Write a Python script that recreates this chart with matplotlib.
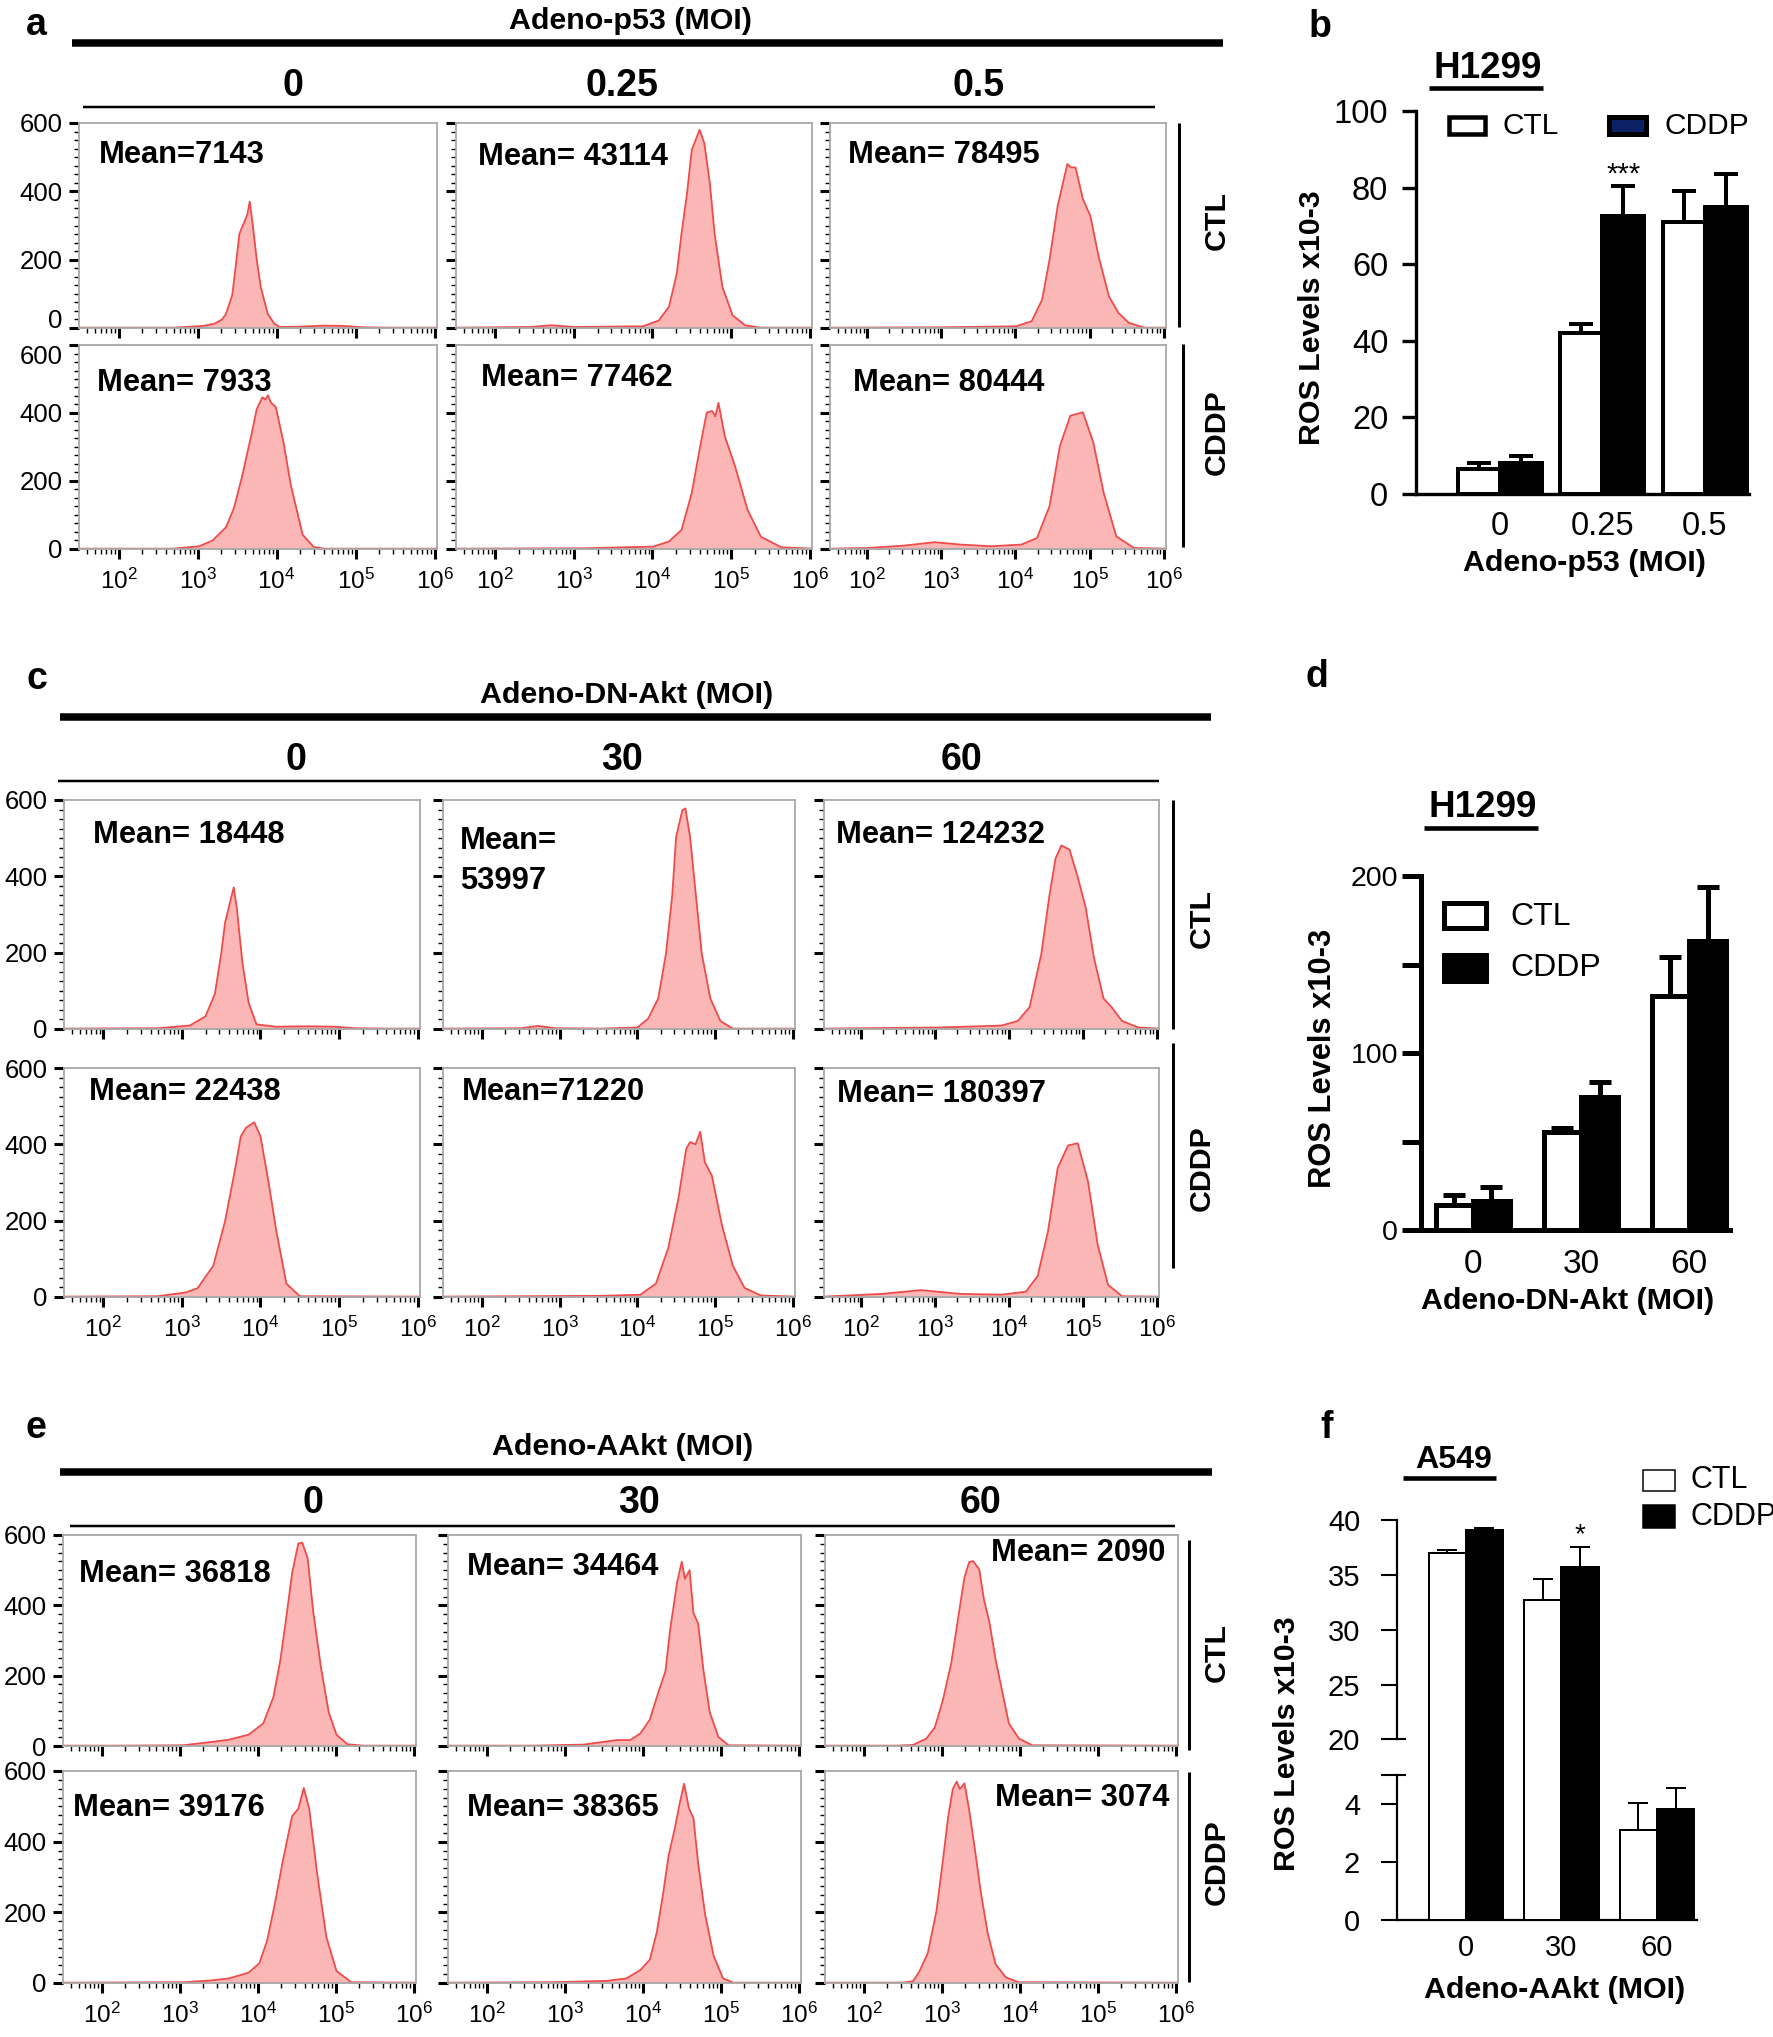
import numpy as np
import matplotlib
matplotlib.use("Agg")
import matplotlib.pyplot as plt
from matplotlib.lines import Line2D
from matplotlib.patches import Rectangle
from matplotlib.ticker import FixedLocator, MultipleLocator, LogLocator, NullFormatter
from matplotlib import transforms
from matplotlib import font_manager

names = {f.name for f in font_manager.fontManager.ttflist}
HAS_NARROW = 'Liberation Sans Narrow' in names
NARROW = 'Liberation Sans Narrow' if HAS_NARROW else 'Liberation Sans'
NS = 1.0 if HAS_NARROW else 0.84   # size factor for condensed texts when narrow font missing
plt.rcParams['font.family'] = ['Liberation Sans', 'DejaVu Sans']
plt.rcParams['mathtext.fontset'] = 'custom'
plt.rcParams['mathtext.rm'] = 'Liberation Sans'
plt.rcParams['mathtext.default'] = 'regular'

# ---------------- data: flow cytometry histograms (log10 intensity, count) -------------
# panel a : Adeno-p53 (MOI 0, 0.25, 0.5)
A_CTL_0_L = [1.5, 2.7, 3.07, 3.22, 3.31, 3.36, 3.44, 3.48, 3.53, 3.58, 3.63, 3.66, 3.70, 3.75, 3.80, 3.85, 3.89, 3.97, 4.04, 4.3, 4.6, 4.85, 5.1, 5.4, 6.03]
A_CTL_0_N = [1, 1, 6, 13, 25, 41, 97, 175, 276, 304, 332, 370, 299, 198, 120, 75, 41, 13, 3, 4, 7, 6, 2, 1, 1]
A_CDDP_0_L = [1.5, 2.69, 3.02, 3.19, 3.36, 3.46, 3.56, 3.68, 3.75, 3.82, 3.86, 3.89, 3.93, 3.99, 4.09, 4.18, 4.33, 4.47, 4.6, 6.03]
A_CDDP_0_N = [1, 1, 8, 25, 64, 120, 210, 334, 412, 446, 440, 452, 430, 418, 311, 188, 42, 6, 1, 1]
A_CTL_025_L = [1.5, 2.45, 2.71, 3.0, 3.88, 4.08, 4.21, 4.31, 4.37, 4.44, 4.50, 4.60, 4.66, 4.73, 4.79, 4.89, 5.02, 5.18, 5.38, 6.03]
A_CTL_025_N = [1, 3, 8, 3, 5, 22, 62, 160, 277, 394, 521, 580, 541, 424, 277, 120, 37, 8, 1, 1]
A_CDDP_025_L = [1.5, 3.1, 4.01, 4.21, 4.37, 4.50, 4.60, 4.69, 4.76, 4.80, 4.84, 4.92, 5.05, 5.21, 5.38, 5.64, 6.03]
A_CDDP_025_N = [1, 2, 7, 22, 56, 165, 293, 401, 406, 390, 430, 332, 244, 115, 36, 5, 1]
A_CTL_05_L = [1.5, 2.98, 4.01, 4.22, 4.36, 4.46, 4.57, 4.70, 4.75, 4.81, 4.91, 5.01, 5.12, 5.26, 5.39, 5.53, 5.74, 6.03]
A_CTL_05_N = [1, 2, 5, 20, 83, 200, 358, 480, 470, 470, 377, 328, 211, 93, 44, 15, 1, 1]
A_CDDP_05_L = [1.5, 2.01, 2.5, 2.91, 3.26, 3.67, 4.08, 4.29, 4.46, 4.60, 4.74, 4.91, 5.05, 5.19, 5.36, 5.6, 6.03]
A_CDDP_05_N = [1, 3, 10, 20, 13, 8, 13, 32, 126, 303, 392, 402, 313, 165, 37, 3, 1]
A_MEANS_CTL = ["Mean=7143", "Mean= 43114", "Mean= 78495"]
A_MEANS_CDDP = ["Mean= 7933", "Mean= 77462", "Mean= 80444"]
A_COLS = ["0", "0.25", "0.5"]

# panel c : Adeno-DN-Akt (MOI 0, 30, 60)
C_CTL_0_L = [1.5, 2.69, 3.10, 3.30, 3.42, 3.50, 3.55, 3.62, 3.66, 3.70, 3.77, 3.85, 3.95, 4.2, 4.6, 4.95, 5.2, 5.6, 6.03]
C_CTL_0_N = [1, 2, 9, 33, 92, 197, 279, 338, 371, 315, 174, 68, 12, 6, 7, 6, 2, 1, 1]
C_CDDP_0_L = [1.5, 2.69, 3.05, 3.20, 3.40, 3.55, 3.67, 3.75, 3.82, 3.92, 4.00, 4.10, 4.20, 4.33, 4.50, 6.03]
C_CDDP_0_N = [1, 2, 12, 23, 82, 199, 327, 421, 444, 458, 421, 304, 175, 35, 2, 1]
C_CTL_30_L = [1.5, 2.5, 2.72, 2.95, 3.53, 4.0, 4.14, 4.27, 4.37, 4.45, 4.50, 4.58, 4.62, 4.68, 4.76, 4.83, 4.94, 5.07, 5.23, 6.03]
C_CTL_30_N = [1, 2, 8, 2, 1, 4, 27, 80, 198, 350, 503, 573, 578, 503, 339, 198, 80, 21, 1, 1]
C_CDDP_30_L = [1.5, 3.53, 4.04, 4.24, 4.40, 4.53, 4.63, 4.68, 4.75, 4.81, 4.87, 4.96, 5.09, 5.23, 5.38, 5.59, 6.03]
C_CDDP_30_N = [1, 3, 6, 35, 129, 259, 388, 406, 400, 433, 353, 318, 188, 82, 24, 4, 1]
C_CTL_60_L = [1.5, 3.08, 3.9, 4.12, 4.28, 4.44, 4.55, 4.63, 4.71, 4.82, 4.93, 5.04, 5.15, 5.28, 5.39, 5.53, 5.75, 6.03]
C_CTL_60_N = [1, 4, 9, 21, 57, 198, 352, 446, 481, 470, 399, 317, 187, 80, 57, 21, 4, 1]
C_CDDP_60_L = [1.5, 2.27, 2.81, 3.35, 3.9, 4.23, 4.39, 4.53, 4.66, 4.80, 4.93, 5.07, 5.20, 5.34, 5.53, 6.03]
C_CDDP_60_N = [1, 8, 18, 8, 6, 14, 55, 173, 338, 397, 403, 303, 138, 32, 2, 1]
C_MEANS_CTL = ["Mean= 18448", "Mean=\n53997", "Mean= 124232"]
C_MEANS_CDDP = ["Mean= 22438", "Mean=71220", "Mean= 180397"]
C_COLS = ["0", "30", "60"]

# panel e : Adeno-AAkt (MOI 0, 30, 60)
E_CTL_0_L = [1.5, 2.16, 3.04, 3.39, 3.63, 3.88, 4.07, 4.20, 4.29, 4.37, 4.44, 4.52, 4.57, 4.64, 4.71, 4.81, 4.91, 5.01, 5.15, 5.35, 6.03]
E_CTL_0_N = [1, 1, 2, 11, 18, 32, 64, 139, 245, 373, 491, 576, 578, 534, 384, 224, 96, 32, 5, 1, 1]
E_CDDP_0_L = [1.5, 3.04, 3.39, 3.63, 3.88, 4.02, 4.12, 4.22, 4.32, 4.44, 4.52, 4.59, 4.66, 4.76, 4.88, 5.01, 5.20, 6.03]
E_CDDP_0_N = [1, 2, 7, 13, 29, 56, 120, 226, 344, 472, 493, 552, 493, 312, 130, 34, 2, 1]
E_CTL_30_L = [1.5, 2.6, 3.24, 3.67, 3.84, 3.97, 4.09, 4.20, 4.29, 4.35, 4.44, 4.50, 4.54, 4.60, 4.65, 4.71, 4.78, 4.86, 4.97, 5.10, 6.03]
E_CTL_30_N = [1, 1, 4, 17, 17, 36, 75, 153, 212, 329, 465, 524, 475, 500, 378, 348, 212, 95, 26, 2, 1]
E_CDDP_30_L = [1.5, 2.81, 3.54, 3.79, 3.97, 4.09, 4.18, 4.26, 4.33, 4.41, 4.48, 4.53, 4.59, 4.65, 4.71, 4.80, 4.91, 5.03, 5.16, 6.03]
E_CDDP_30_N = [1, 2, 6, 13, 37, 66, 144, 252, 359, 437, 515, 564, 496, 466, 339, 193, 76, 13, 1, 1]
E_CTL_60_L = [1.5, 2.42, 2.63, 2.80, 2.91, 3.01, 3.12, 3.23, 3.29, 3.35, 3.40, 3.48, 3.54, 3.61, 3.69, 3.78, 3.86, 3.99, 4.16, 6.03]
E_CTL_60_N = [1, 1, 3, 21, 53, 128, 235, 395, 480, 523, 526, 502, 416, 352, 245, 149, 64, 21, 2, 1]
E_CDDP_60_L = [1.5, 2.5, 2.63, 2.71, 2.82, 2.93, 3.01, 3.08, 3.14, 3.19, 3.23, 3.29, 3.35, 3.42, 3.50, 3.59, 3.69, 3.82, 3.99, 6.03]
E_CDDP_60_N = [1, 1, 5, 32, 85, 203, 341, 469, 549, 570, 549, 565, 490, 384, 256, 139, 53, 16, 2, 1]
E_MEANS_CTL = ["Mean= 36818", "Mean= 34464", "Mean= 2090"]
E_MEANS_CDDP = ["Mean= 39176", "Mean= 38365", "Mean= 3074"]
E_COLS = ["0", "30", "60"]

HIST_YTICKS = [0, 200, 400, 600]
HIST_XTICKS = [1e2, 1e3, 1e4, 1e5, 1e6]
HIST_XLABELS = ["10$^{2}$", "10$^{3}$", "10$^{4}$", "10$^{5}$", "10$^{6}$"]

# ---------------- data: bar charts -------------
B_GROUPS = ["0", "0.25", "0.5"]
B_CTL = [6.5, 42, 71]
B_CTL_ERR = [1.5, 2.5, 8]
B_CDDP = [8, 72.5, 75]
B_CDDP_ERR = [2, 8, 8.5]
B_YTICKS = [0, 20, 40, 60, 80, 100]

D_GROUPS = ["0", "30", "60"]
D_CTL = [14, 55.5, 132]
D_CTL_ERR = [6, 2, 22]
D_CDDP = [16.5, 75, 163]
D_CDDP_ERR = [8, 8.5, 31]
D_YTICKS = [0, 50, 100, 150, 200]
D_YLABELS = ["0", "", "100", "", "200"]

F_GROUPS = ["0", "30", "60"]
F_CTL = [37.0, 32.7, 3.1]
F_CTL_ERR = [0.25, 1.9, 0.95]
F_CDDP = [39.05, 35.7, 3.82]
F_CDDP_ERR = [0.25, 1.8, 0.76]
F_YTICKS = [0, 2, 4, 5, 20, 25, 30, 35, 40]
F_YLABELS = ["0", "2", "4", "", "20", "25", "30", "35", "40"]

# ---------------- figure helpers (pixel layout) -------------
W, H = 1773, 2037
fig = plt.figure(figsize=(W / 100, H / 100), dpi=100)
PT = 0.72  # points per pixel at 100 dpi


def rect(x0, x1, y0, y1):
    return [x0 / W, 1 - y1 / H, (x1 - x0) / W, (y1 - y0) / H]


def ftext(x, y, s, **kw):
    return fig.text(x / W, 1 - y / H, s, **kw)


def ntext(x, y, s, size, **kw):
    return ftext(x, y, s, family=NARROW, fontweight='bold', fontsize=size * NS, **kw)


def fline(x0, x1, y0, y1, lw_px, color='k'):
    fig.add_artist(Line2D([x0 / W, x1 / W], [1 - y0 / H, 1 - y1 / H], lw=lw_px * PT,
                          color=color, solid_capstyle='butt'))


def frect(x0, x1, y0, y1, fc, ec, lw_px):
    fig.add_artist(Rectangle((x0 / W, 1 - y1 / H), (x1 - x0) / W, (y1 - y0) / H,
                             transform=fig.transFigure, facecolor=fc, edgecolor=ec,
                             lw=lw_px * PT, joinstyle='miter'))


FILL = '#fbb6b6'
LINE = '#f04a4a'
SPINE = '#a8a8a8'


def hist_ax(xr, yr, L, N, show_x, show_y, mean, mean_pos, mean_ha='left', yshift=None):
    ax = fig.add_axes(rect(xr[0], xr[1], yr[0], yr[1]))
    xs = 10 ** np.array(L)
    ax.fill_between(xs, 0, N, color=FILL, lw=0)
    ax.plot(xs, N, color=LINE, lw=1.3, solid_joinstyle='round')
    ax.set_xscale('log')
    ax.set_xlim(10 ** 1.5, 10 ** 6.03)
    ax.set_ylim(0, 600)
    for s in ax.spines.values():
        s.set_color(SPINE)
        s.set_linewidth(1.3)
    ax.xaxis.set_major_locator(FixedLocator(HIST_XTICKS))
    ax.xaxis.set_minor_locator(LogLocator(base=10, subs=np.arange(2, 10)))
    ax.xaxis.set_minor_formatter(NullFormatter())
    ax.set_yticks(HIST_YTICKS)
    ax.yaxis.set_minor_locator(MultipleLocator(25))
    ax.tick_params(which='major', direction='out', length=7, width=2.2, color='k')
    ax.tick_params(which='minor', direction='out', length=3.5, width=1.0, color='k')
    if show_x:
        ax.set_xticklabels(HIST_XLABELS, fontsize=17.5)
        ax.tick_params(axis='x', which='major', pad=7)
    else:
        ax.set_xticklabels([])
    if show_y:
        labs = ax.set_yticklabels([str(v) for v in HIST_YTICKS], fontsize=18.5)
        ax.tick_params(axis='y', which='major', pad=5)
        if yshift == 'bottom':
            labs[0].set_va('baseline')
        elif yshift == 'top':
            labs[-1].set_va('top')
    else:
        ax.set_yticklabels([])
    ntext(mean_pos[0], mean_pos[1], mean, 26.5, ha=mean_ha, va='center', linespacing=1.45)
    return ax


def flow_panel(letter, letter_pos, title, title_pos, thick, cols, col_y, col_x, thin,
               xcols, yrows, data, means_ctl, means_cddp, mean_pos_ctl, mean_pos_cddp,
               mean_ha, rowlab_x, rowlab_y, rowline_x, rowline_y, tight=False):
    ftext(letter_pos[0], letter_pos[1], letter, fontweight='bold', fontsize=27, ha='center', va='center')
    ntext(title_pos[0], title_pos[1], title, 26, ha='center', va='center')
    fline(thick[0], thick[1], thick[2], thick[2], 7.5)
    for cx, lab in zip(col_x, cols):
        ftext(cx, col_y, lab, fontweight='bold', fontsize=27, ha='center', va='center')
    fline(thin[0], thin[1], thin[2], thin[2], 2.5)
    for r in range(2):
        for c in range(3):
            L, N = data[r][c]
            mean = (means_ctl if r == 0 else means_cddp)[c]
            mp = (mean_pos_ctl if r == 0 else mean_pos_cddp)[c]
            ys = None
            if tight:
                ys = 'bottom' if r == 0 else 'top'
            hist_ax(xcols[c], yrows[r], L, N, show_x=(r == 1), show_y=(c == 0),
                    mean=mean, mean_pos=mp, mean_ha=mean_ha[c], yshift=ys)
    for r, lab in enumerate(["CTL", "CDDP"]):
        ntext(rowlab_x, rowlab_y[r], lab, 26, rotation=90, ha='center', va='center')
        fline(rowline_x[r], rowline_x[r], rowline_y[r][0], rowline_y[r][1], 3)


# ---------------- panel a -------------
flow_panel('a', (36, 25), "Adeno-p53 (MOI)", (630, 21), (72, 1223, 43), A_COLS, 86, [293, 622, 979],
           (83, 1155, 107),
           [(79, 437), (456, 812), (830, 1166)], [(123, 328), (345, 549)],
           [[(A_CTL_0_L, A_CTL_0_N), (A_CTL_025_L, A_CTL_025_N), (A_CTL_05_L, A_CTL_05_N)],
            [(A_CDDP_0_L, A_CDDP_0_N), (A_CDDP_025_L, A_CDDP_025_N), (A_CDDP_05_L, A_CDDP_05_N)]],
           A_MEANS_CTL, A_MEANS_CDDP,
           [(99, 155), (478, 157), (848, 155)], [(97, 383), (481, 378), (853, 383)],
           ['left', 'left', 'left'], 1217, [220, 432], [1179, 1183], [(123, 327), (344, 547)], tight=True)

# ---------------- panel c -------------
flow_panel('c', (37, 679), "Adeno-DN-Akt (MOI)", (627, 695), (60, 1211, 717), C_COLS, 760, [296, 622, 962],
           (58, 1159, 781),
           [(64, 420), (443, 795), (824, 1159)], [(800, 1029), (1068, 1297)],
           [[(C_CTL_0_L, C_CTL_0_N), (C_CTL_30_L, C_CTL_30_N), (C_CTL_60_L, C_CTL_60_N)],
            [(C_CDDP_0_L, C_CDDP_0_N), (C_CDDP_30_L, C_CDDP_30_N), (C_CDDP_60_L, C_CDDP_60_N)]],
           C_MEANS_CTL, C_MEANS_CDDP,
           [(93, 835), (460, 861), (836, 835)], [(89, 1092), (462, 1092), (837, 1094)],
           ['left', 'left', 'left'], 1202, [918, 1168], [1173, 1173], [(800, 1029), (1043, 1268)])

# ---------------- panel e -------------
flow_panel('e', (36, 1428), "Adeno-AAkt (MOI)", (623, 1447), (60, 1212, 1472), E_COLS, 1503, [313, 639, 980],
           (70, 1175, 1526),
           [(63, 416), (448, 801), (825, 1178)], [(1535, 1746), (1771, 1983)],
           [[(E_CTL_0_L, E_CTL_0_N), (E_CTL_30_L, E_CTL_30_N), (E_CTL_60_L, E_CTL_60_N)],
            [(E_CDDP_0_L, E_CDDP_0_N), (E_CDDP_30_L, E_CDDP_30_N), (E_CDDP_60_L, E_CDDP_60_N)]],
           E_MEANS_CTL, E_MEANS_CDDP,
           [(79, 1574), (467, 1567), (1165, 1553)], [(73, 1808), (467, 1808), (1169, 1798)],
           ['left', 'left', 'right'], 1217, [1652, 1862], [1189, 1189], [(1540, 1750), (1772, 1982)])


# ---------------- bar chart helper -------------
def bar_panel(ax, groups, ctl, ctl_err, cddp, cddp_err, w, lw_px, cap_px, xlim):
    x = np.arange(len(groups))
    ax.bar(x - w / 2, ctl, w, color='white', edgecolor='k', lw=lw_px * PT, zorder=3)
    ax.bar(x + w / 2, cddp, w, color='k', edgecolor='k', lw=lw_px * PT, zorder=3)
    z = np.zeros(len(groups))
    ax.errorbar(x - w / 2, ctl, yerr=[z, ctl_err], fmt='none', ecolor='k', elinewidth=lw_px * PT,
                capsize=cap_px / 2 * PT, capthick=lw_px * PT, zorder=2)
    ax.errorbar(x + w / 2, cddp, yerr=[z, cddp_err], fmt='none', ecolor='k', elinewidth=lw_px * PT,
                capsize=cap_px / 2 * PT, capthick=lw_px * PT, zorder=2)
    ax.set_xlim(*xlim)
    ax.set_xticks(x)
    ax.set_xticklabels(groups)
    ax.spines['top'].set_visible(False)
    ax.spines['right'].set_visible(False)
    return x


# ---------------- panel b -------------
axb = fig.add_axes(rect(1416, 1749, 111, 494))
bar_panel(axb, B_GROUPS, B_CTL, B_CTL_ERR, B_CDDP, B_CDDP_ERR, 0.41, 4, 24, (-0.82, 2.43))
axb.set_ylim(0, 100)
axb.set_yticks(B_YTICKS)
axb.tick_params(axis='y', direction='out', length=10, width=2.4, labelsize=23.5, pad=10)
axb.tick_params(axis='x', length=0, labelsize=23.5, pad=12)
axb.spines['left'].set_linewidth(2.4)
axb.spines['bottom'].set_linewidth(2.4)
axb.text(1 + 0.205, 83.5, "***", ha='center', va='center', fontsize=21)
ftext(1320, 27, 'b', fontweight='bold', fontsize=27, ha='center', va='center')
ftext(1488, 68, 'H1299', fontweight='bold', fontsize=26.5, ha='center', va='center')
fline(1429, 1543, 88, 88, 4.6)
frect(1449, 1485, 117, 134, 'white', 'k', 4.5)
ftext(1502, 126, 'CTL', fontsize=21.5, ha='left', va='center')
frect(1609, 1646, 117, 134, '#0b2364', 'k', 5)
ftext(1664, 126, 'CDDP', fontsize=21.5, ha='left', va='center')
ntext(1312, 318, 'ROS Levels x10-3', 26, rotation=90, ha='center', va='center')
ntext(1584, 563, 'Adeno-p53 (MOI)', 26, ha='center', va='center')

# ---------------- panel d -------------
axd = fig.add_axes(rect(1421, 1730, 876, 1230))
bar_panel(axd, D_GROUPS, D_CTL, D_CTL_ERR, D_CDDP, D_CDDP_ERR, 0.345, 5, 22, (-0.48, 2.38))
axd.set_ylim(0, 200)
axd.set_yticks(D_YTICKS)
axd.set_yticklabels(D_YLABELS)
axd.tick_params(axis='y', direction='out', length=13.5, width=3.6, labelsize=20.5, pad=3)
axd.tick_params(axis='x', length=0, labelsize=24, pad=14)
axd.spines['left'].set_linewidth(3.6)
axd.spines['bottom'].set_linewidth(3.6)
ftext(1317, 677, 'd', fontweight='bold', fontsize=27, ha='center', va='center')
ftext(1483, 808, 'H1299', fontweight='bold', fontsize=26.5, ha='center', va='center')
fline(1424, 1538, 828, 828, 4.6)
frect(1444, 1486, 903, 928, 'white', 'k', 5)
ftext(1510, 917, 'CTL', fontsize=23, ha='left', va='center')
frect(1442, 1488, 953, 983, 'k', 'k', 1)
ftext(1510, 968, 'CDDP', fontsize=23, ha='left', va='center')
ntext(1323, 1058, 'ROS Levels x10-3', 26.5, rotation=90, ha='center', va='center')
ntext(1568, 1301, 'Adeno-DN-Akt (MOI)', 26, ha='center', va='center')

# ---------------- panel f (broken axis) -------------
F_BREAK_V = [-10, 0, 5, 20, 200]
F_BREAK_U = [-26.36, 0, 13.18, 16.45, 196.45]


def f_fwd(v):
    return np.interp(v, F_BREAK_V, F_BREAK_U)


def f_inv(u):
    return np.interp(u, F_BREAK_U, F_BREAK_V)


axf = fig.add_axes(rect(1397, 1697, 1520, 1920))
axf.set_yscale('function', functions=(f_fwd, f_inv))
bar_panel(axf, F_GROUPS, F_CTL, F_CTL_ERR, F_CDDP, F_CDDP_ERR, 0.39, 2, 20, (-0.72, 2.42))
axf.set_ylim(0, 40)
axf.set_yticks(F_YTICKS)
axf.set_yticklabels(F_YLABELS)
axf.yaxis.set_minor_locator(FixedLocator([]))
axf.tick_params(axis='y', direction='out', length=11.5, width=1.5, labelsize=21, pad=15)
axf.tick_params(axis='x', length=0, labelsize=21, pad=10)
axf.spines['left'].set_visible(False)
axf.spines['bottom'].set_linewidth(1.6)
tr = transforms.blended_transform_factory(axf.transAxes, axf.transData)
for seg in [(0, 5), (20, 40)]:
    axf.add_line(Line2D([0, 0], list(seg), transform=tr, color='k', lw=1.6, clip_on=False))
for v in [5, 20]:
    axf.add_line(Line2D([0, 8 / 300], [v, v], transform=tr, color='k', lw=1.5, clip_on=False))
axf.text(1 + 0.195, 38.6, "*", ha='center', va='center', fontsize=20)
ftext(1327, 1428, 'f', fontweight='bold', fontsize=27, ha='center', va='center')
ntext(1454, 1460, 'A549', 27.5, ha='center', va='center')
fline(1403, 1496, 1478, 1478, 4.6)
frect(1643, 1675, 1470, 1491, 'white', 'k', 1.5)
ftext(1690, 1480, 'CTL', fontsize=22, ha='left', va='center')
frect(1643, 1675, 1505, 1528, 'k', 'k', 1.5)
ftext(1690, 1517, 'CDDP', fontsize=22, ha='left', va='center')
ntext(1287, 1744, 'ROS Levels x10-3', 26, rotation=90, ha='center', va='center')
ntext(1555, 1990, 'Adeno-AAkt (MOI)', 26, ha='center', va='center')

fig.savefig('out.png', dpi=100, facecolor='white')
